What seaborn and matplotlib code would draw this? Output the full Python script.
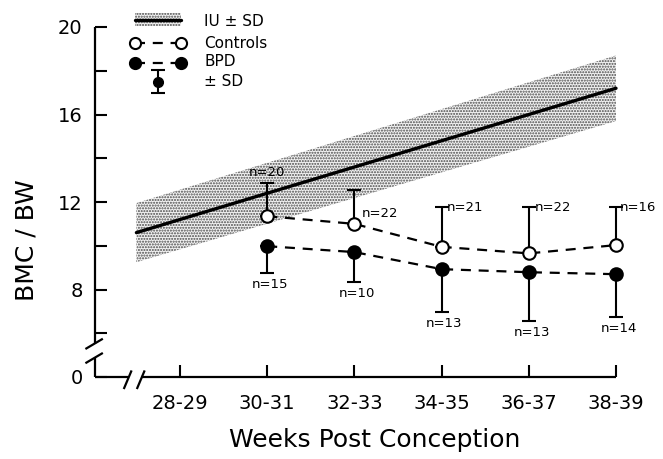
import numpy as np
import pandas as pd
import matplotlib
matplotlib.use("Agg")
import matplotlib.pyplot as plt
import seaborn as sns
from matplotlib.patches import Rectangle

# ---------------- data ----------------
categories = ["28-29", "30-31", "32-33", "34-35", "36-37", "38-39"]
groups = ["30-31", "32-33", "34-35", "36-37", "38-39"]

controls_mean = [11.35, 11.0, 9.95, 9.65, 10.03]
controls_sd = [1.5, 1.55, 1.8, 2.1, 1.72]
controls_n = [20, 22, 21, 22, 16]

bpd_mean = [9.98, 9.71, 8.93, 8.79, 8.70]
bpd_sd = [1.23, 1.37, 1.96, 2.23, 1.96]
bpd_n = [15, 10, 13, 13, 14]

iu_weeks = [27.5, 38.5]
iu_mean = [10.6, 17.2]
iu_sd = [1.35, 1.5]

# ---------------- style ----------------
sns.set_style("ticks")
plt.rcParams["font.family"] = ["DejaVu Sans"]
plt.rcParams["hatch.linewidth"] = 1.0
for k in ("text.color", "axes.labelcolor", "xtick.color", "ytick.color"):
    plt.rcParams[k] = "black"

W, H = 663, 459
fig = plt.figure(figsize=(W / 100, H / 100), dpi=100)
ax_left, ax_right, ax_top, ax_bot = 95, 616, 27, 377
ax = fig.add_axes([ax_left / W, 1 - ax_bot / H,
                   (ax_right - ax_left) / W, (ax_bot - ax_top) / H])

pos = {c: i for i, c in enumerate(categories)}
ctrl = pd.DataFrame({"x": [pos[g] for g in groups], "mean": controls_mean,
                     "sd": controls_sd, "n": controls_n})
bpd = pd.DataFrame({"x": [pos[g] for g in groups], "mean": bpd_mean,
                    "sd": bpd_sd, "n": bpd_n})
iu = pd.DataFrame({"x": [(w - 28.5) / 2 for w in iu_weeks],
                   "mean": iu_mean, "sd": iu_sd})

band_kw = dict(facecolor="#f2f2f2", edgecolor="#4a4a4a", hatch="......",
               linewidth=0)
# IU band and line
ax.fill_between(iu["x"], iu["mean"] - iu["sd"], iu["mean"] + iu["sd"],
                zorder=1, **band_kw)
sns.lineplot(data=iu, x="x", y="mean", color="black", lw=2.4, ax=ax,
             zorder=2, legend=False)

dash = (0, (4.5, 3.5))
# error bars
ax.errorbar(ctrl["x"], ctrl["mean"], yerr=[np.zeros(len(ctrl)), ctrl["sd"]],
            fmt="none", ecolor="black", elinewidth=1.5, capsize=5,
            capthick=1.5, zorder=3)
ax.errorbar(bpd["x"], bpd["mean"], yerr=[bpd["sd"], np.zeros(len(bpd))],
            fmt="none", ecolor="black", elinewidth=1.5, capsize=5,
            capthick=1.5, zorder=3)

sns.lineplot(data=ctrl, x="x", y="mean", color="black", lw=1.6,
             linestyle=dash, marker="o", markersize=9, markerfacecolor="white",
             markeredgecolor="black", markeredgewidth=1.5, ax=ax, zorder=4)
sns.lineplot(data=bpd, x="x", y="mean", color="black", lw=1.6,
             linestyle=dash, marker="o", markersize=9, markerfacecolor="black",
             markeredgecolor="black", markeredgewidth=1.5, ax=ax, zorder=4)
for ln in ax.lines:
    ln.set_clip_on(False)
for c in ax.collections:
    c.set_clip_on(False)

# n labels
ctrl_offsets = [(0, 8, "center"), (5, -17, "left"), (4, 0, "left"),
                (4, 0, "left"), (3, 0, "left")]
for (x, m, s, n), (dx, dy, ha) in zip(ctrl[["x", "mean", "sd", "n"]].values,
                                      ctrl_offsets):
    ax.annotate(f"n={int(n)}", (x, m + s), xytext=(dx, dy),
                textcoords="offset points", ha=ha, va="center", fontsize=9.5)
for x, m, s, n in bpd[["x", "mean", "sd", "n"]].values:
    ax.annotate(f"n={int(n)}", (x, m - s), xytext=(2, -8.5),
                textcoords="offset points", ha="center", va="center",
                fontsize=9.5)

# axes
xmin = (ax_left - 180) / 87.2
ax.set_xlim(xmin, 5)
ax.set_ylim(4, 20)
ax.set_xticks(range(len(categories)))
ax.set_xticklabels(categories, fontsize=14)
ax.set_yticks([4, 8, 12, 16, 20])
ax.set_yticklabels(["0", "8", "12", "16", "20"], fontsize=14)
ax.set_yticks([6, 10, 14, 18], minor=True)
ax.tick_params(axis="both", which="both", direction="in", length=8.5,
               width=1.5, color="black")
ax.tick_params(axis="x", pad=12)
ax.tick_params(axis="y", pad=9)
ax.set_xlabel("")
ax.set_ylabel("")
for sp in ax.spines.values():
    sp.set_visible(False)

# hand-drawn axis lines with breaks
lk = dict(color="black", lw=1.6, clip_on=False, solid_capstyle="butt")
ax.plot([xmin, xmin], [20, 5.5], **lk)
ax.plot([xmin, xmin], [4.85, 4], **lk)
ax.plot([xmin, -0.60], [4, 4], **lk)
ax.plot([-0.45, 5], [4, 4], **lk)
for yb in (5.5, 4.85):
    ax.plot([xmin - 0.11, xmin + 0.09], [yb - 0.22, yb + 0.25], **lk)
for xb in (-0.60, -0.45):
    ax.plot([xb - 0.045, xb + 0.045], [3.45, 4.3], **lk)

ax.text(-0.132, 0.391, "BMC / BW", transform=ax.transAxes, rotation=90,
        ha="center", va="center", fontsize=18)
ax.text(0.537, -0.18, "Weeks Post Conception", transform=ax.transAxes,
        ha="center", va="center", fontsize=18)

# legend (drawn by hand in axes fraction)
def fx(px):
    return (px - ax_left) / (ax_right - ax_left)

def fy(py):
    return (ax_bot - py) / (ax_bot - ax_top)

T = ax.transAxes
x0, x1 = fx(135), fx(181)
ax.add_patch(Rectangle((x0, fy(26)), x1 - x0, fy(13) - fy(26), transform=T,
                       clip_on=False, **band_kw))
ax.plot([x0, x1], [fy(19.5), fy(19.5)], transform=T, color="black", lw=2.4,
        clip_on=False)
ax.plot([x0, x1], [fy(43), fy(43)], transform=T, color="black", lw=1.6,
        linestyle=dash, marker="o", markersize=8, markerfacecolor="white",
        markeredgewidth=1.5, clip_on=False)
ax.plot([x0, x1], [fy(63), fy(63)], transform=T, color="black", lw=1.6,
        linestyle=dash, marker="o", markersize=8, markerfacecolor="black",
        markeredgewidth=1.5, clip_on=False)
ax.plot([fx(158), fx(158)], [fy(70), fy(93)], transform=T, color="black",
        lw=1.5, marker="_", markersize=10, markeredgewidth=1.5, clip_on=False)
ax.plot([fx(158)], [fy(82)], transform=T, color="black", marker="o",
        markersize=7, clip_on=False)
tx = fx(204)
for py, s in [(21, "IU ± SD"), (43, "Controls"), (62, "BPD"), (81, "± SD")]:
    ax.text(tx, fy(py), s, transform=T, ha="left", va="center", fontsize=11)

fig.savefig("out.png", dpi=100)
